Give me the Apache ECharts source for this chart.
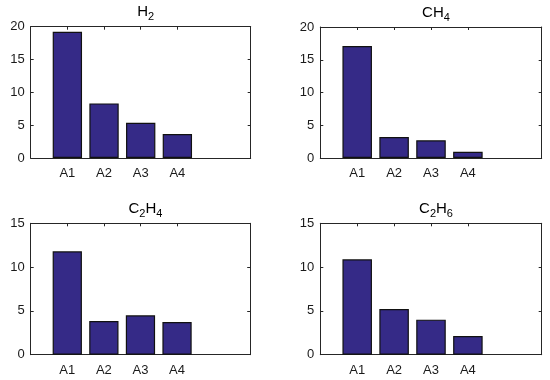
<!DOCTYPE html>
<html>
<head>
<meta charset="utf-8">
<script src="https://cdn.jsdelivr.net/npm/echarts@6/dist/echarts.min.js"></script>
<style>html,body{margin:0;padding:0;background:#fff}#c{width:550px;height:380px}</style>
</head>
<body>
<div id="c"></div>
<script>
const categories = ['A1', 'A2', 'A3', 'A4'];
const h2 = [19.24, 8.32, 5.38, 3.65];
const ch4 = [17.09, 3.2, 2.7, 0.95];
const c2h4 = [11.8, 3.84, 4.49, 3.73];
const c2h6 = [10.89, 5.21, 4.0, 2.13];
const titles = [['H', '2'], ['CH', '4'], ['C', '2', 'H', '4'], ['C', '2', 'H', '6']];
const yMaxes = [20, 20, 15, 15];
const yInterval = 5;

const seriesValues = [h2, ch4, c2h4, c2h6];
const grids = [
  {left: 30.7, top: 26.7, width: 220, height: 131.3},
  {left: 320.3, top: 27, width: 221.4, height: 131},
  {left: 30.7, top: 223.3, width: 219.5, height: 131.4},
  {left: 320.3, top: 223.3, width: 221.4, height: 131.4}
];
const FONT = '"Liberation Sans", Arial, sans-serif';
const AX = '#262626';
const axisData = [''].concat(categories, ['', '']);

const option = {
  animation: false,
  backgroundColor: '#fff',
  grid: grids.map(g => Object.assign({containLabel: false}, g)),
  title: titles.map((parts, i) => {
    const g = grids[i];
    const txt = parts.map((p, j) => (j % 2 === 0 ? '{m|' : '{s|') + p + '}').join('');
    return {
      text: txt,
      left: g.left + g.width / 2,
      textAlign: 'center',
      top: g.top - 30,
      textStyle: {
        fontWeight: 'normal',
        rich: {
          m: {fontSize: 15, fontFamily: FONT, fontWeight: 'normal', color: '#000'},
          s: {fontSize: 11, fontFamily: FONT, fontWeight: 'normal', color: '#000', padding: [10, 0, 0, 0]}
        }
      }
    };
  }),
  xAxis: [],
  yAxis: [],
  series: []
};

grids.forEach((g, i) => {
  option.xAxis.push({
    type: 'category', gridIndex: i, data: axisData, boundaryGap: false, position: 'bottom',
    axisLine: {show: true, onZero: false, lineStyle: {color: AX, width: 1}},
    axisTick: {show: true, inside: true, length: 3, interval: (idx) => idx >= 1 && idx <= 4, lineStyle: {color: AX}},
    axisLabel: {show: true, interval: 0, margin: 9, fontSize: 13, fontFamily: FONT, color: '#1a1a1a'},
    splitLine: {show: false}
  });
  option.xAxis.push({
    type: 'category', gridIndex: i, data: axisData, boundaryGap: false, position: 'top',
    axisLine: {show: true, onZero: false, lineStyle: {color: AX, width: 1}},
    axisTick: {show: true, inside: true, length: 3, interval: (idx) => idx >= 1 && idx <= 4, lineStyle: {color: AX}},
    axisLabel: {show: false},
    splitLine: {show: false}
  });
  option.yAxis.push({
    type: 'value', gridIndex: i, min: 0, max: yMaxes[i], interval: yInterval, position: 'left',
    axisLine: {show: true, lineStyle: {color: AX, width: 1}},
    axisTick: {show: true, inside: true, length: 3, lineStyle: {color: AX}},
    axisLabel: {show: true, margin: 6, fontSize: 13, fontFamily: FONT, color: '#1a1a1a'},
    splitLine: {show: false}
  });
  option.yAxis.push({
    type: 'value', gridIndex: i, min: 0, max: yMaxes[i], interval: yInterval, position: 'right',
    axisLine: {show: true, lineStyle: {color: AX, width: 1}},
    axisTick: {show: true, inside: true, length: 3, lineStyle: {color: AX}},
    axisLabel: {show: false},
    splitLine: {show: false}
  });
  option.series.push({
    type: 'bar',
    xAxisIndex: i * 2,
    yAxisIndex: i * 2,
    barWidth: '80%',
    data: [null].concat(seriesValues[i], [null, null]),
    itemStyle: {color: '#352a87', borderColor: '#111', borderWidth: 1.2},
    z: 1
  });
});

const chart = echarts.init(document.getElementById('c'), null, {renderer: 'canvas'});
chart.setOption(option);
</script>
</body>
</html>
